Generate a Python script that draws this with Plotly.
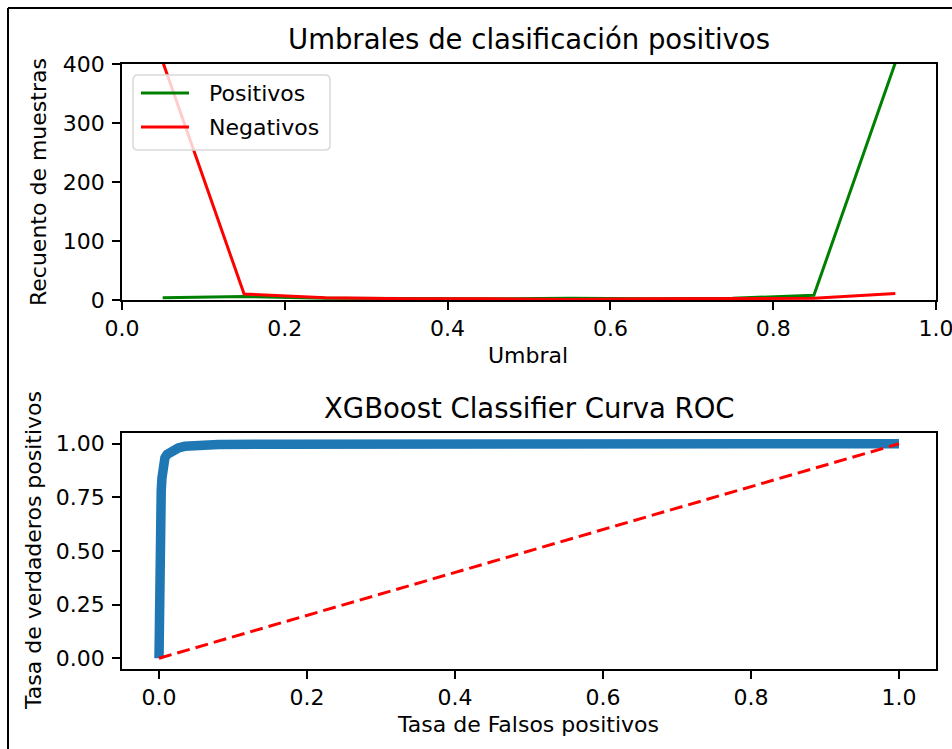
import plotly.graph_objects as go

# Histogram of predicted probabilities per class (bin centres)
umbral = [0.05, 0.15, 0.25, 0.35, 0.45, 0.55, 0.65, 0.75, 0.85, 0.95]
positivos = [4, 6, 3, 2, 2, 3, 2, 3, 8, 402]
negativos = [404, 10, 4, 2, 2, 1, 2, 2, 3, 11]

# ROC curve points
fpr = [0.0, 0.0, 0.001, 0.001, 0.002, 0.002, 0.003, 0.004, 0.005, 0.006,
       0.008, 0.011, 0.015, 0.02, 0.026, 0.035, 0.05, 0.08, 0.15, 0.3, 0.6, 1.0]
tpr = [0.0, 0.5, 0.52, 0.6, 0.65, 0.75, 0.78, 0.84, 0.88, 0.92,
       0.935, 0.95, 0.96, 0.97, 0.98, 0.988, 0.993, 0.996, 0.998, 0.999, 1.0, 1.0]
diag = [0.0, 1.0]

W, H = 952, 749
FONT = "DejaVu Sans"


def px(x):
    return x / W


def py(y):
    return 1 - y / H


fig = go.Figure()

fig.add_trace(go.Scatter(x=umbral, y=positivos, mode="lines", name="Positivos",
                         line=dict(color="green", width=3), xaxis="x", yaxis="y"))
fig.add_trace(go.Scatter(x=umbral, y=negativos, mode="lines", name="Negativos",
                         line=dict(color="red", width=3), xaxis="x", yaxis="y"))

fig.add_trace(go.Scatter(x=fpr, y=tpr, mode="lines", line=dict(color="#1f77b4", width=9.5),
                         xaxis="x2", yaxis="y2"))
fig.add_trace(go.Scatter(x=diag, y=diag, mode="lines",
                         line=dict(color="red", width=3, dash="13px,6px"),
                         xaxis="x2", yaxis="y2"))

axis_common = dict(showline=True, mirror=True, linecolor="black", linewidth=1.8,
                   ticks="outside", ticklen=8, tickwidth=1.8, tickcolor="black",
                   showgrid=False, zeroline=False, automargin=False,
                   ticklabeloverflow="allow",
                   tickfont=dict(family=FONT, size=22, color="black"))
yaxis_extra = dict(ticklabelstandoff=3)

xdom = [px(122), px(936)]
xticks = [0, 0.2, 0.4, 0.6, 0.8, 1.0]
xtext = ["0.0", "0.2", "0.4", "0.6", "0.8", "1.0"]
fig.update_layout(
    width=W, height=H, autosize=False, showlegend=False,
    margin=dict(l=0, r=0, t=0, b=0, pad=0, autoexpand=False),
    paper_bgcolor="white", plot_bgcolor="white",
    xaxis=dict(domain=xdom, range=[0, 1], tickvals=xticks, ticktext=xtext,
               anchor="y", **axis_common),
    yaxis=dict(domain=[py(300), py(64)], range=[0, 400], tickvals=[0, 100, 200, 300, 400],
               anchor="x", **axis_common, **yaxis_extra),
    xaxis2=dict(domain=xdom, range=[-0.05, 1.05], tickvals=xticks, ticktext=xtext,
                anchor="y2", **axis_common),
    yaxis2=dict(domain=[py(669), py(433)], range=[-0.05, 1.05],
                tickvals=[0, 0.25, 0.5, 0.75, 1.0],
                ticktext=["0.00", "0.25", "0.50", "0.75", "1.00"], anchor="x2",
                **axis_common, **yaxis_extra),
)

ann = []


def text(x, y, s, size=22, angle=0, xanchor="center", yanchor="middle"):
    ann.append(dict(x=px(x), y=py(y), xref="paper", yref="paper", text=s, showarrow=False,
                    textangle=angle, xanchor=xanchor, yanchor=yanchor,
                    font=dict(family=FONT, size=size, color="black")))


# titles and axis labels
text(529, 39, "Umbrales de clasificación positivos", size=27.5)
text(529, 408, "XGBoost Classifier Curva ROC", size=27.5)
text(528, 355, "Umbral")
text(38, 182, "Recuento de muestras", angle=-90)
text(528, 724, "Tasa de Falsos positivos")
text(33, 551, "Tasa de verdaderos positivos", angle=-90)

# legend box
shapes = []
x0, y0, x1, y1, r = 133, 75, 330, 150, 5
path = (f"M {px(x0 + r)},{py(y0)} L {px(x1 - r)},{py(y0)} "
        f"Q {px(x1)},{py(y0)} {px(x1)},{py(y0 + r)} L {px(x1)},{py(y1 - r)} "
        f"Q {px(x1)},{py(y1)} {px(x1 - r)},{py(y1)} L {px(x0 + r)},{py(y1)} "
        f"Q {px(x0)},{py(y1)} {px(x0)},{py(y1 - r)} L {px(x0)},{py(y0 + r)} "
        f"Q {px(x0)},{py(y0)} {px(x0 + r)},{py(y0)} Z")
shapes.append(dict(type="path", path=path, xref="paper", yref="paper",
                   line=dict(color="#d9d9d9", width=1.5), fillcolor="rgba(255,255,255,0.8)"))
for yy, col, lab in [(93, "green", "Positivos"), (127, "red", "Negativos")]:
    shapes.append(dict(type="line", xref="paper", yref="paper", x0=px(141), x1=px(189),
                       y0=py(yy), y1=py(yy), line=dict(color=col, width=3)))
    text(207, yy, lab, xanchor="left")

# outer frame
shapes.append(dict(type="line", xref="paper", yref="paper", x0=px(8), x1=1.01,
                   y0=py(8), y1=py(8), line=dict(color="black", width=2)))
shapes.append(dict(type="line", xref="paper", yref="paper", x0=px(8), x1=px(8),
                   y0=py(8), y1=-0.01, line=dict(color="black", width=2)))

fig.update_layout(annotations=ann, shapes=shapes)
fig.write_html("out.html")
